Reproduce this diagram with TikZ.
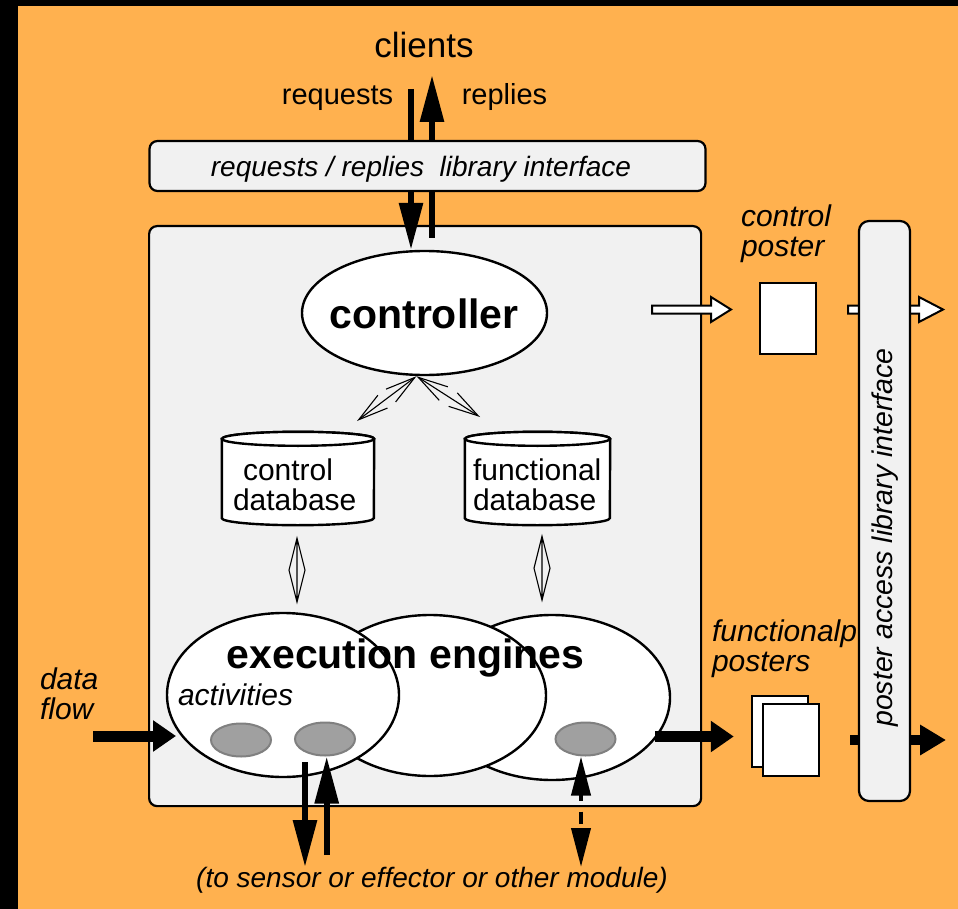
\documentclass[tikz,border=0pt]{standalone}
\usepackage{fontspec}
\setmainfont{Liberation Sans}
\usetikzlibrary{arrows.meta,shapes.geometric,calc}

\definecolor{sandorange}{RGB}{255,177,79}
\definecolor{panel}{RGB}{241,241,241}
\definecolor{actfill}{RGB}{160,160,160}
\definecolor{actline}{RGB}{128,128,128}

\newcommand\fs[1]{\fontsize{#1}{#1}\selectfont}
% hollow (white) block arrow: start x, tip x, head length, y
\newcommand\hollowarrow[4]{%
  \draw[line width=2pt, fill=white, line join=miter]
    (#1,#4+4) -- (#2-#3,#4+4) -- (#2-#3,#4+12.5) -- (#2,#4)
    -- (#2-#3,#4-12.5) -- (#2-#3,#4-4) -- (#1,#4-4) -- cycle;}

\begin{document}
\begin{tikzpicture}[x=1pt,y=1pt,
  txt/.style={inner sep=0pt, outer sep=0pt},
  panelbox/.style={draw, line width=2.2pt, fill=panel, rounded corners=8pt, inner sep=0pt},
  bubble/.style={ellipse, draw, line width=2.4pt, fill=white, inner sep=0pt},
  activity/.style={ellipse, draw=actline, line width=2pt, fill=actfill,
                   minimum width=60pt, minimum height=33pt, inner sep=0pt},
  sheet/.style={draw, line width=2.5pt, fill=white, inner sep=0pt},
  dbline/.style={line width=2.4pt, draw=black, fill=white},
  heavy/.style={line width=6pt, -{Triangle[length=47pt,width=23pt]}},
  flowarrow/.style={line width=11pt, -{Triangle[length=23pt,width=30pt]}},
  thinlink/.style={line width=1.1pt,
     {Straight Barb[length=30pt,width=16pt]}-{Straight Barb[length=30pt,width=16pt]}},
  sidelink/.style={line width=1.1pt, line join=miter},
  dashlink/.style={line width=4pt, dash pattern=on 6pt off 11pt on 12pt off 6pt,
     {Triangle[length=39pt,width=19pt]}-{Triangle[length=39pt,width=19pt]}},
]
\useasboundingbox (0,0) rectangle (958,-909);
\fill[black] (0,0) rectangle (958,-909);
\fill[sandorange] (18,-6) rectangle (958,-909);

% ---------- the module ----------
\node[panelbox, minimum width=552pt, minimum height=580pt, anchor=north west] (module) at (148,-225) {};

% controller
\node[bubble, minimum width=245pt, minimum height=124pt] (ctl) at (424.5,-313) {};
\node[txt, font=\fs{41}\bfseries, anchor=base] (ctltext) at (424,-328) {controller};

% requests / replies to and from the clients
\node[txt, font=\fs{35}, anchor=base] (clients) at (424,-58) {clients};
\node[txt, font=\fs{29}, anchor=base] (reqtext) at (337.5,-105) {requests};
\node[txt, font=\fs{29}, anchor=base] (reptext) at (504.5,-105) {replies};
\coordinate (reqtail) at (411,-89);
\coordinate (reptip) at (432,-75);
\draw[heavy] (reqtail) -- (reqtail |- ctl.north);
\draw[heavy] ($(reptip |- module.north)+(0,-13)$) -- (reptip);

\node[panelbox, minimum width=556pt, minimum height=50pt] (rrlib) at (427.5,-166) {};
\node[txt, font=\fs{28}\itshape, anchor=base] (rrtext) at (421,-177) {requests / replies\ \ library interface};

% databases
\node[minimum width=152pt, minimum height=79pt, inner sep=0pt] (cdb) at (298,-478.5) {};
\node[minimum width=145pt, minimum height=79pt, inner sep=0pt] (fdb) at (537.5,-478.5) {};
\filldraw[dbline] (cdb.north west) -- (cdb.south west)
   arc[start angle=180,end angle=360,x radius=76pt,y radius=7pt]
   -- (cdb.north east) arc[start angle=0,end angle=180,x radius=76pt,y radius=7pt] -- cycle;
\draw[dbline] (cdb.north) ellipse[x radius=76pt,y radius=7pt];
\filldraw[dbline] (fdb.north west) -- (fdb.south west)
   arc[start angle=180,end angle=360,x radius=72.5pt,y radius=7pt]
   -- (fdb.north east) arc[start angle=0,end angle=180,x radius=72.5pt,y radius=7pt] -- cycle;
\draw[dbline] (fdb.north) ellipse[x radius=72.5pt,y radius=7pt];
\node[txt, font=\fs{30}, align=left, anchor=north west] (cdbtext) at (233,-458.5)
   {\hspace*{10pt}control\\database};
\node[txt, font=\fs{30}, align=left, anchor=north west] (fdbtext) at (473,-458.5)
   {functional\\database};

% controller <-> databases
\coordinate (ctlport) at ($(ctl.south)+(-8,0)$);
\coordinate (cdbport) at (357,-421);
\coordinate (fdbport) at (480,-417);
\draw[thinlink] (ctlport) -- (cdbport);
\draw[thinlink] (ctlport) -- (fdbport);

% execution engines
\node[bubble, minimum width=236pt, minimum height=165pt] (ee3) at (552,-697.5) {};
\node[bubble, minimum width=232pt, minimum height=161pt] (ee2) at (430,-695.5) {};
\node[bubble, minimum width=232pt, minimum height=164pt] (ee1) at (283,-695) {};
\node[txt, font=\fs{41}\bfseries, anchor=base] (eetext) at (405.5,-668) {execution engines};
\node[txt, font=\fs{30}\itshape, anchor=base west] (acttext) at (178,-705) {activities};
\node[activity] (ga) at (241,-740) {};
\node[activity] (gb) at (325,-739) {};
\node[activity] (gc) at (585.5,-739) {};

% databases <-> execution engines
\coordinate (cdblow) at ($(cdb.south)+(-1,-20)$);
\coordinate (cdbeng) at ($(cdb.south)+(-1,-84)$);
\coordinate (fdblow) at ($(fdb.south)+(4.5,-18)$);
\coordinate (fdbeng) at ($(fdb.south)+(4.5,-82)$);
\draw[sidelink] (cdblow) -- ($(cdblow)!0.5!(cdbeng)+(8,0)$) -- (cdbeng)
   -- ($(cdblow)!0.5!(cdbeng)+(-8,0)$) -- cycle (cdblow) -- (cdbeng);
\draw[sidelink] (fdblow) -- ($(fdblow)!0.5!(fdbeng)+(8,0)$) -- (fdbeng)
   -- ($(fdblow)!0.5!(fdbeng)+(-8,0)$) -- cycle (fdblow) -- (fdbeng);

% sensor / effector links
\node[txt, font=\fs{28}\itshape, anchor=base] (iotext) at (432,-887) {(to sensor or effector or other module)};
\coordinate (outstart) at (305,-762);
\coordinate (instart) at (326.7,-855);
\draw[heavy] (outstart) -- (outstart |- 0,-867);
\draw[heavy] (instart) -- (instart |- gb.south);
\coordinate (duplex) at (581,-867);
\draw[dashlink] (duplex |- gc.south) -- (duplex);

% data flow in and out
\node[txt, font=\fs{30}\itshape, align=left, anchor=north west] (dftext) at (40,-667.5) {data\\flow};
\coordinate (dfin) at (93,-736);
\draw[flowarrow] (dfin) -- (176,-736);

% posters
\node[txt, font=\fs{30}\itshape, align=left, anchor=north west] (cptext) at (741,-204.5) {control\\poster};
\node[sheet, minimum width=56pt, minimum height=71pt] (cposter) at (788,-318.5) {};
\node[txt, font=\fs{30}\itshape, align=left, anchor=north west] (fptext) at (712,-620) {functionalp\\posters};
\node[sheet, minimum width=56pt, minimum height=71pt] (fposterA) at (780,-731.5) {};
\node[sheet, minimum width=56pt, minimum height=72pt] (fposterB) at (791,-740) {};

\coordinate (engout) at (655,-736.5);
\draw[flowarrow] (engout) -- ($(fposterA.west |- engout)+(-17,0)$);
\hollowarrow{652}{731}{20}{-309.5}
\hollowarrow{848}{943}{24}{-309.5}
\coordinate (pubout) at (850,-740);
\draw[line width=10pt, -{Triangle[length=26pt,width=29pt]}] (pubout) -- (946,-740);

% poster access library interface
\node[panelbox, rounded corners=10pt, minimum width=51pt, minimum height=580pt] (palib) at (884.5,-511) {};
\node[txt, font=\fs{28.5}\itshape, rotate=90] (patext) at (885,-537.5) {poster access library interface};
\end{tikzpicture}
\end{document}
